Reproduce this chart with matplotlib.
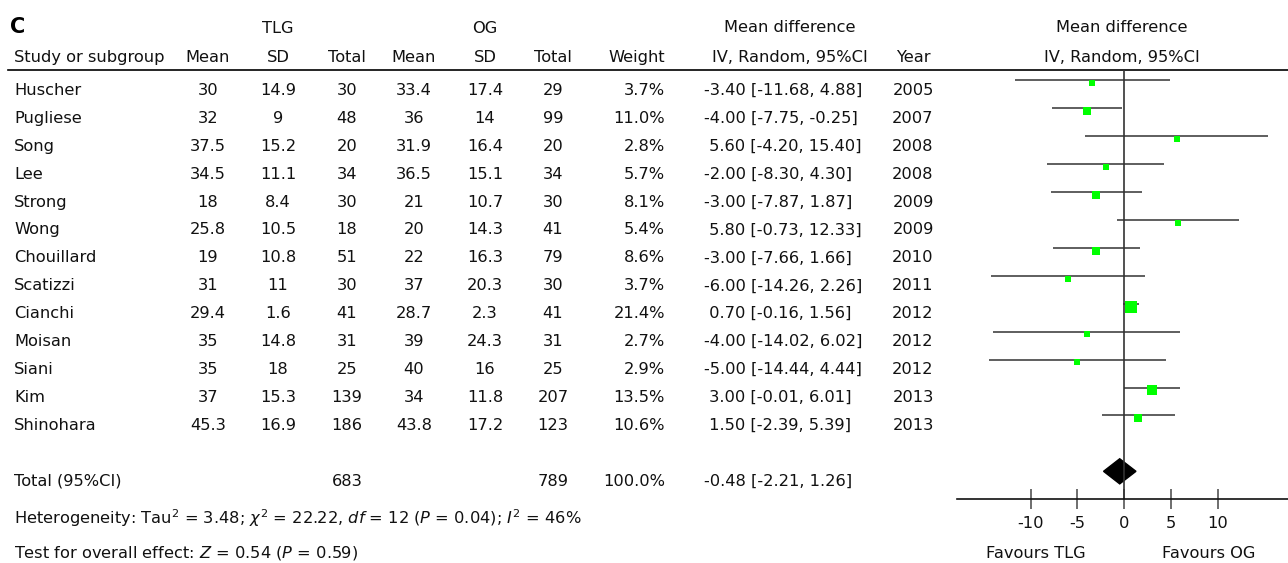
import matplotlib
matplotlib.use("Agg")
import matplotlib.pyplot as plt
import numpy as np
from matplotlib.patches import Polygon

# Data
studies = ['Huscher', 'Pugliese', 'Song', 'Lee', 'Strong', 'Wong', 'Chouillard',
           'Scatizzi', 'Cianchi', 'Moisan', 'Siani', 'Kim', 'Shinohara']
tlg_mean = ['30', '32', '37.5', '34.5', '18', '25.8', '19', '31', '29.4', '35', '35', '37', '45.3']
tlg_sd = ['14.9', '9', '15.2', '11.1', '8.4', '10.5', '10.8', '11', '1.6', '14.8', '18', '15.3', '16.9']
tlg_n = [30, 48, 20, 34, 30, 18, 51, 30, 41, 31, 25, 139, 186]
og_mean = ['33.4', '36', '31.9', '36.5', '21', '20', '22', '37', '28.7', '39', '40', '34', '43.8']
og_sd = ['17.4', '14', '16.4', '15.1', '10.7', '14.3', '16.3', '20.3', '2.3', '24.3', '16', '11.8', '17.2']
og_n = [29, 99, 20, 34, 30, 41, 79, 30, 41, 31, 25, 207, 123]
weight = [3.7, 11.0, 2.8, 5.7, 8.1, 5.4, 8.6, 3.7, 21.4, 2.7, 2.9, 13.5, 10.6]
md = [-3.40, -4.00, 5.60, -2.00, -3.00, 5.80, -3.00, -6.00, 0.70, -4.00, -5.00, 3.00, 1.50]
ci_lo = [-11.68, -7.75, -4.20, -8.30, -7.87, -0.73, -7.66, -14.26, -0.16, -14.02, -14.44, -0.01, -2.39]
ci_hi = [4.88, -0.25, 15.40, 4.30, 1.87, 12.33, 1.66, 2.26, 1.56, 6.02, 4.44, 6.01, 5.39]
years = [2005, 2007, 2008, 2008, 2009, 2009, 2010, 2011, 2012, 2012, 2012, 2013, 2013]

total_md, total_lo, total_hi = -0.48, -2.21, 1.26
total_tlg, total_og = 683, 789
x_ticks = [-10, -5, 0, 5, 10]

plt.rcParams['font.family'] = 'DejaVu Sans'
plt.rcParams['mathtext.fontset'] = 'dejavusans'
FS = 11.7

W, H = 1288, 563
fig = plt.figure(figsize=(W / 100, H / 100), dpi=100)

# overlay in pixel coordinates for the table part
tab = fig.add_axes([0, 0, 1, 1])
tab.set_xlim(0, W)
tab.set_ylim(H, 0)
tab.axis('off')

row0, step = 80.3, 27.93
def row_px(i):
    return row0 + step * i

def base(i):
    return row_px(i) + 14.5

def txt(x, y, s, ha='center', **kw):
    tab.text(x, y, s, ha=ha, va='baseline', fontsize=FS, color='#111111', **kw)

# headers
tab.text(10, 33, 'C', ha='left', va='baseline', fontsize=15, fontweight='bold')
txt(278, 33, 'TLG')
txt(485, 33, 'OG')
txt(790, 31.5, 'Mean difference')
txt(1122, 31.5, 'Mean difference')
txt(14, 62, 'Study or subgroup', ha='left')
for x, s in [(208, 'Mean'), (278, 'SD'), (347, 'Total'), (414, 'Mean'),
             (485, 'SD'), (553, 'Total'), (790, 'IV, Random, 95%CI'),
             (913, 'Year'), (1122, 'IV, Random, 95%CI')]:
    txt(x, 62, s)
txt(665, 62, 'Weight', ha='right')
tab.plot([8, W], [70, 70], color='black', lw=1.2)

# study rows
for i, name in enumerate(studies):
    y = base(i)
    txt(14, y, name, ha='left')
    txt(208, y, tlg_mean[i])
    txt(278, y, tlg_sd[i])
    txt(347, y, str(tlg_n[i]))
    txt(414, y, og_mean[i])
    txt(485, y, og_sd[i])
    txt(553, y, str(og_n[i]))
    txt(665, y, f'{weight[i]:.1f}%', ha='right')
    est = f'{md[i]:.2f}' if md[i] < 0 else f' {md[i]:.2f}'
    txt(704, y, f'{est} [{ci_lo[i]:.2f}, {ci_hi[i]:.2f}]', ha='left')
    txt(913, y, str(years[i]))

# total row
yt = base(14)
txt(14, yt, 'Total (95%CI)', ha='left')
txt(347, yt, str(total_tlg))
txt(553, yt, str(total_og))
txt(665, yt, '100.0%', ha='right')
txt(704, yt, f'{total_md:.2f} [{total_lo:.2f}, {total_hi:.2f}]', ha='left')
txt(14, 524, r'Heterogeneity: Tau$^{2}$ = 3.48; $\chi^{2}$ = 22.22, $df$ = 12 ($P$ = 0.04); $I^{2}$ = 46%', ha='left')
txt(14, 557, r'Test for overall effect: $Z$ = 0.54 ($P$ = 0.59)', ha='left')

# forest panel
px_per_unit = 9.35
zero_px = 1124.2
left_px, top_px, bottom_px = 957, 70, 499
ax = fig.add_axes([left_px / W, (H - bottom_px) / H, (W - left_px) / W, (bottom_px - top_px) / H])
ax.set_xlim((left_px - zero_px) / px_per_unit, (W - zero_px) / px_per_unit)
ax.set_ylim((bottom_px - row0) / step, (top_px - row0) / step)
ax.patch.set_alpha(0)

rows = np.arange(len(studies))
ax.hlines(rows, ci_lo, ci_hi, color='#333333', lw=1.1)
for i in rows:
    side_px = 2.0 + 2.0 * np.sqrt(weight[i])
    ax.plot(md[i], i + 0.1, marker='s', color='#00FF00', markersize=side_px * 0.72,
            markeredgewidth=0, linestyle='none')
ax.axvline(0, color='#333333', lw=1.2)
diamond = Polygon([(total_lo, 14), (total_md, 14 - 0.45), (total_hi, 14), (total_md, 14 + 0.45)],
                  closed=True, facecolor='black', edgecolor='black')
ax.add_patch(diamond)

for side in ['top', 'left', 'right']:
    ax.spines[side].set_visible(False)
ax.spines['bottom'].set_color('#111111')
ax.spines['bottom'].set_linewidth(1.2)
ax.set_yticks([])
ax.set_xticks(x_ticks)
ax.set_xticklabels([str(t) for t in x_ticks])
ax.tick_params(axis='x', direction='inout', length=14, width=1.2, color='#555555',
               labelsize=FS, pad=5, labelcolor='#111111')

fav_y = (558 - row0) / step
ax.text(-9.5, fav_y, 'Favours TLG', ha='center', va='baseline', fontsize=FS, color='#111111', clip_on=False)
ax.text(9.0, fav_y, 'Favours OG', ha='center', va='baseline', fontsize=FS, color='#111111', clip_on=False)

fig.savefig('out.png', dpi=100)
